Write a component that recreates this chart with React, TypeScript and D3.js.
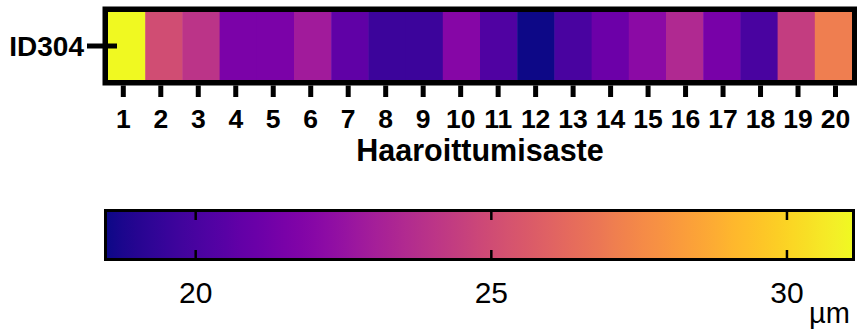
import React from "react";
import * as d3 from "d3";

const categories = ["1","2","3","4","5","6","7","8","9","10","11","12","13","14","15","16","17","18","19","20"];
const rowLabel = "ID304";
const values = [31.1, 25.05, 24.0, 21.6, 21.6, 22.9, 20.7, 19.6, 19.6, 21.9, 20.2, 18.5, 20.0, 21.1, 22.1, 23.5, 21.5, 20.0, 24.4, 27.1];
const colorDomain = [18.5, 31.1];
const colorTicks = [20, 25, 30];
const xTitle = "Haaroittumisaste";
const unitLabel = "µm";

const W = 857;
const H = 329;
const FONT = "'Liberation Sans', Arial, Helvetica, sans-serif";

export default function App() {
  const color = d3.scaleSequential(d3.interpolatePlasma).domain(colorDomain as [number, number]);

  // heatmap geometry
  const hm = { x0: 108, x1: 852, y0: 12, y1: 80 };
  const band = d3.scaleBand<string>().domain(categories).range([hm.x0, hm.x1]).padding(0);
  const tickPos = d3.scalePoint<string>().domain(categories).range([123.3, 835.5]);
  const yBand = d3.scaleBand<string>().domain([rowLabel]).range([hm.y0, hm.y1]);
  const bw = 5.5;

  // colorbar geometry
  const cb = { x0: 107, x1: 852, y0: 212, y1: 258 };
  const cScale = d3.scaleLinear().domain(colorDomain).range([cb.x0, cb.x1]);
  const cbw = 3;
  const stops = d3.range(0, 1.0001, 0.02);

  return (
    <svg width={W} height={H} style={{ position: "absolute", left: 0, top: 0 }} fontFamily={FONT}>
      <defs>
        <linearGradient id="plasmaGrad" x1="0" x2="1" y1="0" y2="0">
          {stops.map((t, i) => (
            <stop key={i} offset={`${t * 100}%`} stopColor={d3.interpolatePlasma(t)} />
          ))}
        </linearGradient>
      </defs>
      <rect x={0} y={0} width={W} height={H} fill="#fff" />

      {/* heatmap cells */}
      {categories.map((c, i) => (
        <rect
          key={c}
          x={band(c)!}
          y={yBand(rowLabel)!}
          width={band.bandwidth() + 0.5}
          height={yBand.bandwidth()}
          fill={color(values[i])}
        />
      ))}
      {/* border */}
      <rect
        x={hm.x0 - bw / 2}
        y={hm.y0 - bw / 2}
        width={hm.x1 - hm.x0 + bw}
        height={hm.y1 - hm.y0 + bw}
        fill="none"
        stroke="#000"
        strokeWidth={bw}
      />
      {/* y tick */}
      <line
        x1={87}
        x2={117}
        y1={yBand(rowLabel)! + yBand.bandwidth() / 2}
        y2={yBand(rowLabel)! + yBand.bandwidth() / 2}
        stroke="#000"
        strokeWidth={5}
      />
      <text
        x={84}
        y={yBand(rowLabel)! + yBand.bandwidth() / 2}
        dy="0.36em"
        textAnchor="end"
        fontSize={28}
        fontWeight="bold"
        fill="#000"
      >
        {rowLabel}
      </text>
      {/* x ticks */}
      {categories.map((c) => (
        <g key={"t" + c}>
          <line x1={tickPos(c)!} x2={tickPos(c)!} y1={hm.y1 + bw} y2={97} stroke="#000" strokeWidth={5} />
          <text x={tickPos(c)!} y={128} textAnchor="middle" fontSize={26.5} fontWeight="bold" fill="#000">
            {c}
          </text>
        </g>
      ))}
      <text x={(hm.x0 + hm.x1) / 2} y={161} textAnchor="middle" fontSize={30.5} fontWeight="bold" fill="#000">
        {xTitle}
      </text>

      {/* colorbar */}
      <rect x={cb.x0} y={cb.y0} width={cb.x1 - cb.x0} height={cb.y1 - cb.y0} fill="url(#plasmaGrad)" />
      {colorTicks.map((t) => (
        <g key={"c" + t}>
          <line x1={cScale(t)} x2={cScale(t)} y1={cb.y0} y2={cb.y0 + 8} stroke="#000" strokeWidth={2.5} />
          <line x1={cScale(t)} x2={cScale(t)} y1={cb.y1 - 8} y2={cb.y1} stroke="#000" strokeWidth={2.5} />
          <text x={cScale(t)} y={303} textAnchor="middle" fontSize={30} fill="#000">
            {t}
          </text>
        </g>
      ))}
      <rect
        x={cb.x0 - cbw / 2}
        y={cb.y0 - cbw / 2}
        width={cb.x1 - cb.x0 + cbw}
        height={cb.y1 - cb.y0 + cbw}
        fill="none"
        stroke="#000"
        strokeWidth={cbw}
      />
      <text x={809} y={323} fontSize={29} fill="#000">
        {unitLabel}
      </text>
    </svg>
  );
}
